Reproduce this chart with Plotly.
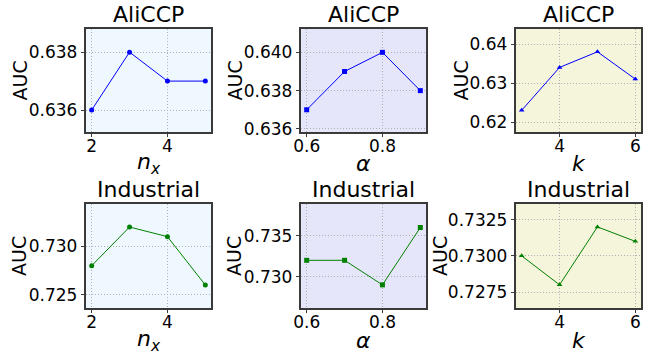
import plotly.graph_objects as go

# ---- data ----
nx_vals = [2, 3, 4, 5]
alpha_vals = [0.6, 0.7, 0.8, 0.9]
k_vals = [3, 4, 5, 6]

aliccp_nx = [0.636, 0.638, 0.637, 0.637]
aliccp_alpha = [0.637, 0.639, 0.640, 0.638]
aliccp_k = [0.623, 0.634, 0.638, 0.631]

industrial_nx = [0.728, 0.732, 0.731, 0.726]
industrial_alpha = [0.732, 0.732, 0.729, 0.736]
industrial_k = [0.7300, 0.7280, 0.7320, 0.7310]

titles = ["AliCCP", "AliCCP", "AliCCP", "Industrial", "Industrial", "Industrial"]
x_titles = ["<i>n</i><sub><i>x</i></sub>", "<i>α</i>", "<i>k</i>"]

# tick definitions
x_ticks = [[2, 4], [0.6, 0.8], [4, 6]]
x_ticktext = [["2", "4"], ["0.6", "0.8"], ["4", "6"]]
y_ticks = [
    [0.636, 0.638],
    [0.636, 0.638, 0.640],
    [0.62, 0.63, 0.64],
    [0.725, 0.730],
    [0.730, 0.735],
    [0.7275, 0.7300, 0.7325],
]
y_fmt = [".3f", ".3f", ".2f", ".3f", ".3f", ".4f"]

# ---- styling ----
FONT = "DejaVu Sans"
bg_colors = ["#F0F8FF", "#E6E6FA", "#F5F5DC"]
line_colors = ["#0000FF", "#008000"]
symbols = ["circle", "square", "triangle-up"]
x_ranges = [[1.85, 5.15], [0.585, 0.915], [2.85, 6.15]]
y_ranges = [
    [0.63524, 0.6388],
    [0.63584, 0.64122],
    [0.61744, 0.64385],
    [0.72362, 0.73438],
    [0.72618, 0.73887],
    [0.72640, 0.73358],
]
auc_offset = [67, 67, 56, 67, 67, 76]

W, H = 652, 352
col_px = [(86, 211), (301, 426), (516, 641)]
row_px = [(29, 132), (204, 308)]

xs = [nx_vals, alpha_vals, k_vals]
ys = [aliccp_nx, aliccp_alpha, aliccp_k, industrial_nx, industrial_alpha, industrial_k]

fig = go.Figure()
annotations = []
shapes = []

for i in range(6):
    r, c = divmod(i, 3)
    idx = "" if i == 0 else str(i + 1)
    xa, ya = "x" + idx, "y" + idx
    x0, x1 = col_px[c]
    t0, t1 = row_px[r]
    xd = [x0 / W, x1 / W]
    yd = [1 - t1 / H, 1 - t0 / H]

    fig.add_trace(go.Scatter(
        x=xs[c], y=ys[i], mode="lines+markers",
        line=dict(color=line_colors[r], width=1),
        marker=dict(symbol=symbols[c], size=5, color=line_colors[r]),
        xaxis=xa, yaxis=ya, showlegend=False,
    ))

    common = dict(
        showline=True, mirror=True, linecolor="#3a3a3a", linewidth=1.5,
        showgrid=True, gridcolor="#b0b0b0", gridwidth=0.8, griddash="1px,2px",
        zeroline=False, ticks="outside", ticklen=3.5, tickwidth=1, tickcolor="#3a3a3a",
        tickfont=dict(family=FONT, size=17, color="#000"), automargin=False,
    )
    fig.layout["xaxis" + idx] = dict(
        domain=xd, range=x_ranges[c], anchor=ya, ticklabelstandoff=-6,
        tickvals=x_ticks[c], ticktext=x_ticktext[c], **common)
    fig.layout["yaxis" + idx] = dict(
        domain=yd, range=y_ranges[i], anchor=xa,
        tickvals=y_ticks[i], tickformat=y_fmt[i], **common)

    shapes.append(dict(type="rect", xref=xa + " domain", yref=ya + " domain",
                       x0=0, x1=1, y0=0, y1=1, fillcolor=bg_colors[c],
                       line=dict(width=0), layer="below"))

    cx = (x0 + x1) / 2 / W
    annotations.append(dict(text=titles[i], x=cx, y=1 - t0 / H,
                            xref="paper", yref="paper", xanchor="center", yanchor="bottom",
                            showarrow=False, font=dict(family=FONT, size=22, color="#000")))
    annotations.append(dict(text=x_titles[c], x=cx, y=1 - (t1 + 32) / H,
                            xref="paper", yref="paper", xanchor="center", yanchor="middle",
                            showarrow=False, font=dict(family=FONT, size=22, color="#000")))
    annotations.append(dict(text="AUC", x=(x0 - auc_offset[i]) / W, y=1 - (t0 + t1) / 2 / H,
                            xref="paper", yref="paper", xanchor="center", yanchor="middle",
                            textangle=-90, showarrow=False,
                            font=dict(family=FONT, size=19, color="#000")))

fig.update_layout(
    width=W, height=H, margin=dict(l=0, r=0, t=0, b=0, autoexpand=False),
    paper_bgcolor="white", plot_bgcolor="rgba(0,0,0,0)",
    annotations=annotations, shapes=shapes,
    font=dict(family=FONT),
)

fig.write_html("out.html", config={"displayModeBar": False},
               post_script="document.body.style.margin='0px';")
